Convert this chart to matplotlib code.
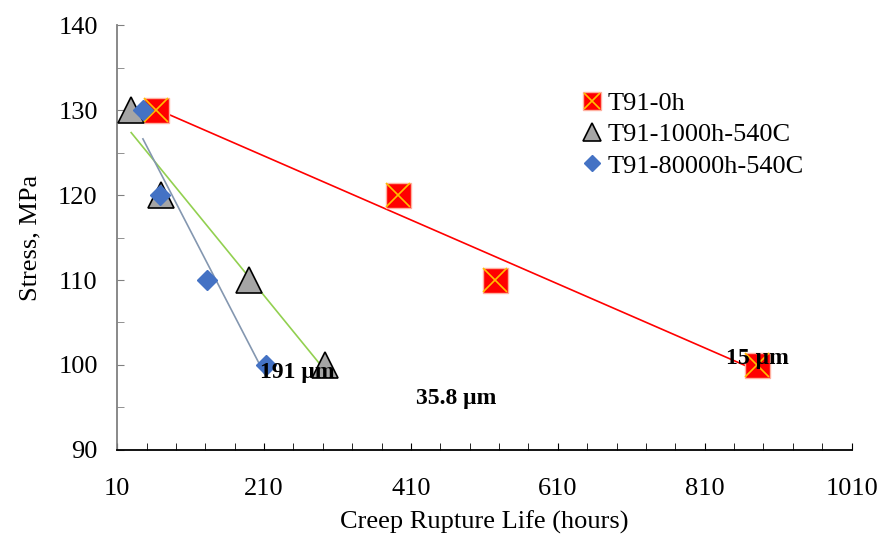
import numpy as np
import matplotlib
matplotlib.use("Agg")
from matplotlib import pyplot as plt
from matplotlib.ticker import MultipleLocator

plt.rcParams['font.family'] = ['Liberation Serif', 'DejaVu Serif']

# creep rupture life (hours) and stress (MPa)
life_0h = [63, 392, 524, 881]
stress_0h = [130, 120, 110, 100]
life_1000h = [29, 70, 190, 293]
stress_1000h = [130, 120, 110, 100]
life_80000h = [45, 68, 132, 213]
stress_80000h = [130, 120, 110, 100]

labels = ['T91-0h', 'T91-1000h-540C', 'T91-80000h-540C']
notes = ['191 \u03bcm', '35.8 \u03bcm', '15 \u03bcm']
note_x = [255, 472, 882]
note_y = [99.1, 96.1, 100.8]


def trend(ax, x, y, color):
    a, b = np.polyfit(x, y, 1)
    xs = np.array([min(x), max(x)])
    ax.plot(xs, a * xs + b, color=color, lw=1.2, zorder=2)


fig = plt.figure(figsize=(8.88, 5.35), dpi=100)
ax = fig.add_axes([0.132, 0.159, 0.827, 0.794])

trend(ax, life_0h, stress_0h, '#FF0000')
trend(ax, life_1000h, stress_1000h, '#92D050')
trend(ax, life_80000h, stress_80000h, '#8497B0')

sq, = ax.plot(life_0h, stress_0h, 's', ms=18, mfc='#FF0000', mec='#FFB0A0', mew=1, zorder=3)
xx, = ax.plot(life_0h, stress_0h, 'x', ms=17, mec='#FFC000', mew=1.2, zorder=4)
tri, = ax.plot(life_1000h, stress_1000h, '^', ms=19, mfc='#A5A5A5', mec='black', mew=1.2, zorder=3)
dia, = ax.plot(life_80000h, stress_80000h, 'D', ms=10, mfc='#4472C4', mec='#4472C4', zorder=5)

for t, x, y in zip(notes, note_x, note_y):
    ax.text(x, y, t, fontsize=17, fontweight='bold', ha='center', va='center', zorder=6)

ax.set_xlim(10, 1010)
ax.set_ylim(90, 140)
ax.xaxis.set_major_locator(MultipleLocator(200, offset=10))
ax.xaxis.set_minor_locator(MultipleLocator(40, offset=10))
ax.yaxis.set_major_locator(MultipleLocator(10))
ax.yaxis.set_minor_locator(MultipleLocator(5))
ax.tick_params(axis='both', which='both', direction='in', length=5, labelsize=19)
ax.tick_params(axis='y', which='both', colors='#808080', labelcolor='black', pad=14)
ax.tick_params(axis='x', which='both', colors='black', pad=20)

for s in ['top', 'right']:
    ax.spines[s].set_visible(False)
ax.spines['left'].set_color('#808080')
ax.spines['left'].set_linewidth(1.3)
ax.spines['bottom'].set_linewidth(1.3)

ax.set_xlabel('Creep Rupture Life (hours)', fontsize=19, labelpad=8)
ax.set_ylabel('Stress, MPa', fontsize=19, labelpad=12)

leg_sq, = ax.plot([], [], 's', ms=13, mfc='#FF0000', mec='#FFB0A0')
leg_x, = ax.plot([], [], 'x', ms=12, mec='#FFC000', mew=1.2)
leg_tri, = ax.plot([], [], '^', ms=13, mfc='#A5A5A5', mec='black', mew=1.2)
leg_dia, = ax.plot([], [], 'D', ms=8, mfc='#4472C4', mec='#4472C4')
ax.legend([(leg_sq, leg_x), leg_tri, leg_dia], labels, loc='upper left',
          bbox_to_anchor=(0.6, 0.9), frameon=False, fontsize=19,
          handlelength=0.8, handletextpad=0.2, labelspacing=0.3)

fig.savefig('out.png', dpi=100)
